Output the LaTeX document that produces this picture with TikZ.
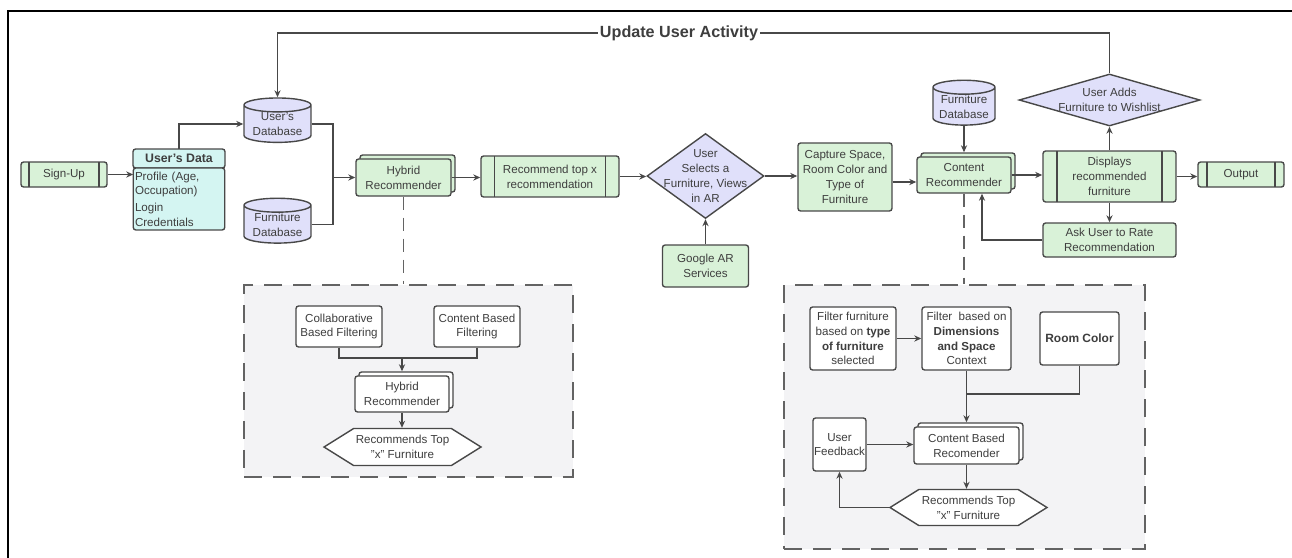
\documentclass[tikz,border=0pt]{standalone}
\usepackage{fontspec}
\setmainfont{Liberation Sans}
\usetikzlibrary{arrows.meta,positioning,shapes.geometric,shapes.symbols,shadows}
\definecolor{LineClr}{RGB}{72,72,72}
\definecolor{TxtClr}{RGB}{62,62,62}
\definecolor{StepClr}{RGB}{217,242,216}
\definecolor{DataClr}{RGB}{212,245,242}
\definecolor{StoreClr}{RGB}{224,224,250}
\definecolor{PanelClr}{RGB}{243,243,245}

\begin{document}
\begin{tikzpicture}[x=0.02cm,y=-0.02cm,
  every node/.style={font=\fontsize{6.6}{8.4}\selectfont,text=TxtClr,align=center},
  base/.style={draw=LineClr,line width=0.8pt,rounded corners=1.5pt,inner sep=1pt},
  stepbox/.style={base,fill=StepClr},
  procbox/.style={stepbox,path picture={
      \draw[LineClr,line width=0.8pt]
        ([xshift=#1]path picture bounding box.north west) -- ([xshift=#1]path picture bounding box.south west)
        ([xshift=-#1]path picture bounding box.north east) -- ([xshift=-#1]path picture bounding box.south east);}},
  stackbox/.style={base,fill=#1,copy shadow={shadow xshift=0.08cm,shadow yshift=0.08cm,draw=LineClr,fill=#1}},
  dbstore/.style={cylinder,shape border rotate=90,aspect=0.28,draw=LineClr,line width=0.8pt,fill=StoreClr,inner sep=0pt},
  choice/.style={diamond,draw=LineClr,line width=0.8pt,fill=StoreClr,inner sep=0pt},
  hexbox/.style={signal,signal to=east and west,signal pointer angle=64,draw=LineClr,line width=0.8pt,fill=white,inner sep=0pt},
  inbox/.style={base,fill=white},
  panel/.style={draw=LineClr!85,line width=1.1pt,fill=PanelClr,dash pattern=on 0.36cm off 0.22cm},
  sub/.style={draw=LineClr!85,line width=1.1pt,dash pattern=on 0.26cm off 0.16cm},
  flow/.style={draw=LineClr,line width=0.8pt,-{Stealth[length=4pt,width=3.5pt]}},
  link/.style={draw=LineClr,line width=0.8pt}
]
\useasboundingbox (0,0) rectangle (1292,558);
\draw[line width=0.7pt] (1292,11) -- (8,11) -- (8,558);

% panels behind the two recommenders
\node[panel,minimum width=6.58cm,minimum height=3.84cm] (hpanel) at (408.5,381) {};
\node[panel,minimum width=7.22cm,minimum height=5.28cm] (cpanel) at (964.5,417) {};

% main row
\node[procbox=0.16cm,minimum width=1.72cm,minimum height=0.5cm] (signup) at (64,174.5) {Sign-Up};
\node[base,fill=DataClr,minimum width=1.84cm,minimum height=0.38cm,outer sep=0pt,
  font=\fontsize{7}{8.4}\selectfont\bfseries] (udhead) at (179,158.5) {User's Data};
\node[base,fill=DataClr,text width=1.76cm,minimum height=1.24cm,align=left,outer sep=0pt,
  below=0pt of udhead] (udata) {Profile (Age,\\Occupation)\\[1pt]Login\\Credentials};
\node[dbstore,minimum width=1.34cm,minimum height=0.84cm] (userdb) at (277.5,124) {User's\\Database};
\node[dbstore,minimum width=1.34cm,minimum height=0.84cm] (furndb) at (277.5,224.5) {Furniture\\Database};
\coordinate (merge) at (333,177.5);
\node[stackbox=StepClr,minimum width=1.9cm,minimum height=0.74cm] (hybrid) at (403.5,177.5) {Hybrid\\Recommender};
\node[procbox=0.27cm,minimum width=2.76cm,minimum height=0.82cm] (topx) at (550,176.5) {Recommend top x\\recommendation};
\node[choice,minimum width=2.34cm,minimum height=1.7cm,
  label={center:{User\\Selects a\\Furniture, Views\\in AR}}] (select) at (705.5,176) {};
\node[stepbox,minimum width=1.72cm,minimum height=0.84cm] (google) at (705.5,266) {Google AR\\Services};
\node[stepbox,minimum width=1.88cm,minimum height=1.36cm] (capture) at (845,177) {Capture Space,\\Room Color and\\Type of\\Furniture};
\node[dbstore,minimum width=1.24cm,minimum height=0.82cm] (furndb2) at (964,106.5) {Furniture\\Database};
\node[stackbox=StepClr,minimum width=1.88cm,minimum height=0.72cm] (content) at (964,175) {Content\\Recommender};
\node[procbox=0.28cm,minimum width=2.66cm,minimum height=1.02cm] (display) at (1109.5,176.5) {Displays\\recommended\\furniture};
\node[procbox=0.18cm,minimum width=1.72cm,minimum height=0.5cm] (output) at (1241,174.5) {Output};
\node[choice,minimum width=3.62cm,minimum height=1.04cm,
  label={center:{User Adds\\Furniture to Wishlist}}] (wish) at (1109.5,100) {};
\node[stepbox,minimum width=2.66cm,minimum height=0.68cm] (rate) at (1109.5,240) {Ask User to Rate\\Recommendation};

\draw[flow] (signup.east) -- (signup.east -| udata.west);
\draw[flow] (udhead.north) |- (userdb.west);
\draw[link] (userdb.east) -| (merge);
\draw[link] (furndb.east) -| (merge);
\draw[flow] (merge) -- (hybrid.west);
\draw[flow] (hybrid.east) -- (hybrid.east -| topx.west);
\draw[flow] (topx.east) -- (topx.east -| select.west);
\draw[flow] (google.north) -- (select.south);
\draw[flow] (select.east) -- (select.east -| capture.west);
\draw[flow] ([yshift=-0.1cm]capture.east) -- ([yshift=-0.1cm]capture.east -| content.west);
\draw[flow] (furndb2.south) -- ([yshift=0.08cm]content.north);
\draw[flow] (content.east) -- (content.east -| display.west);
\draw[flow] (display.east) -- (display.east -| output.west);
\draw[flow] (display.north) -- (wish.south);
\draw[flow] (display.south) -- (rate.north);
\draw[flow] (rate.west) -| ([xshift=0.36cm]content.south);

% feedback loop over the top
\coordinate (loop) at (0,33);
\draw[flow] (wish.north) |- (loop -| userdb.north) -- (userdb.north);
\node[fill=white,inner sep=1pt,font=\fontsize{9.2}{11}\selectfont\bfseries] (activity) at (679,33) {Update User Activity};

\draw[sub] (hybrid.south) -- (hybrid.south |- hpanel.north);
\draw[sub] (content.south) -- (content.south |- cpanel.north);

% hybrid recommender detail
\node[inbox,minimum width=1.72cm,minimum height=0.82cm] (collab) at (339,326.5) {Collaborative\\Based Filtering};
\node[inbox,minimum width=1.72cm,minimum height=0.82cm] (cbf) at (477,326.5) {Content Based\\Filtering};
\node[stackbox=white,minimum width=1.88cm,minimum height=0.72cm] (hybrid2) at (402,394) {Hybrid\\Recommender};
\node[hexbox,minimum width=3.14cm,minimum height=0.74cm] (topx2) at (402.5,447) {Recommends Top\\"x" Furniture};
\coordinate (mix) at (402,358);
\draw[link] (collab.south) |- (mix);
\draw[link] (cbf.south) |- (mix);
\draw[flow] (mix) -- ([yshift=0.08cm]hybrid2.north);
\draw[flow] (hybrid2.south) -- (hybrid2.south |- topx2.north);

% content recommender detail
\node[inbox,minimum width=1.72cm,minimum height=1.26cm] (bytype) at (853,338.5) {Filter furniture\\based on \textbf{type}\\\textbf{of furniture}\\selected};
\node[inbox,minimum width=1.78cm,minimum height=1.26cm] (bysize) at (966.5,338.5) {Filter\ \ based on\\\textbf{Dimensions}\\\textbf{and Space}\\Context};
\node[inbox,minimum width=1.58cm,minimum height=1.06cm,font=\fontsize{6.8}{8.4}\selectfont\bfseries] (roomclr) at (1079.5,338.5) {Room Color};
\node[stackbox=white,minimum width=2.1cm,minimum height=0.74cm] (cbr) at (966.5,445.5) {Content Based\\Recomender};
\node[inbox,minimum width=1.06cm,minimum height=1.06cm,inner sep=0pt] (feedback) at (839.5,444.5) {User\\Feedback};
\node[hexbox,minimum width=3.14cm,minimum height=0.72cm] (topx3) at (968.5,507.5) {Recommends Top\\"x" Furniture};
\coordinate (mix2) at (966.5,394);
\draw[flow] (bytype.east) -- (bysize.west);
\draw[link] (roomclr.south) |- (mix2);
\draw[flow] (bysize.south) -- ([yshift=0.08cm]cbr.north);
\draw[flow] (feedback.east) -- (feedback.east -| cbr.west);
\draw[flow] (cbr.south) -- (cbr.south |- topx3.north);
\draw[flow] (topx3.west) -| (feedback.south);
\end{tikzpicture}
\end{document}
